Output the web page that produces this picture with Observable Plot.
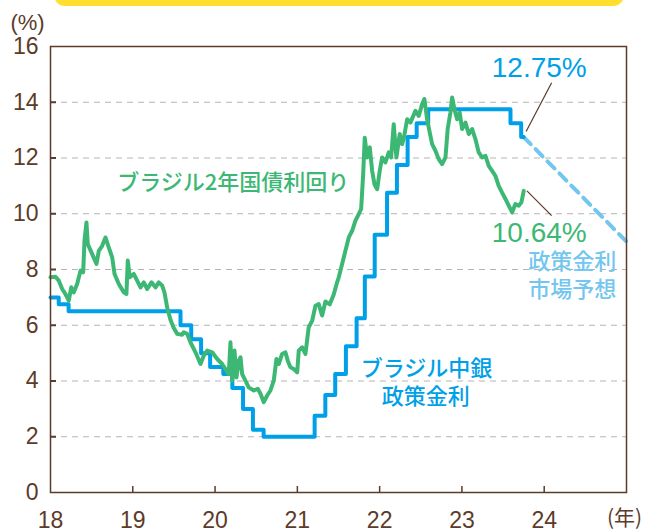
<!DOCTYPE html>
<html>
<head>
<meta charset="utf-8">
<script src="https://cdn.jsdelivr.net/npm/d3@7"></script>
<script src="https://cdn.jsdelivr.net/npm/@observablehq/plot@0.6"></script>
<style>
  html, body { margin: 0; padding: 0; background: #fff; }
  #wrap { position: relative; width: 646px; height: 531px; overflow: hidden; }
  #banner { position: absolute; left: 54px; top: -16px; width: 570px; height: 22px; background: #ffdf2c; border-radius: 12px; }
  #chart { position: absolute; left: 0; top: 0; }
</style>
</head>
<body>
<div id="wrap"><div id="chart"></div><div id="banner"></div></div>
<script>
// ---- data ----
const yTicks = [0, 2, 4, 6, 8, 10, 12, 14, 16];
const gridTicks = [2, 4, 6, 8, 10, 12, 14];
const xTicks = [2018, 2019, 2020, 2021, 2022, 2023, 2024];
const xInnerTicks = [2019, 2020, 2021, 2022, 2023, 2024];

// Brazil central bank policy rate (step)
const policyDates = [2018.0, 2018.10, 2018.22, 2019.58, 2019.71, 2019.83, 2019.94, 2020.10, 2020.21, 2020.34, 2020.46, 2020.59, 2021.21, 2021.34, 2021.46, 2021.59, 2021.72, 2021.82, 2021.94, 2022.09, 2022.21, 2022.34, 2022.45, 2022.59, 2023.59, 2023.72, 2023.75];
const policyRates = [7.0, 6.75, 6.5, 6.0, 5.5, 5.0, 4.5, 4.25, 3.75, 3.0, 2.25, 2.0, 2.75, 3.5, 4.25, 5.25, 6.25, 7.75, 9.25, 10.75, 11.75, 12.75, 13.25, 13.75, 13.25, 12.75, 12.75];

// Market forecast of policy rate (dashed)
const forecastDates = [2023.75, 2024.0, 2024.5, 2025.0];
const forecastRates = [12.75, 12.0, 10.5, 9.0];

// Brazil 2-year government bond yield
const bondDates = [2018.000, 2018.061, 2018.101, 2018.142, 2018.182, 2018.222, 2018.252, 2018.283, 2018.324, 2018.365, 2018.397, 2018.413, 2018.437, 2018.453, 2018.507, 2018.559, 2018.587, 2018.628, 2018.668, 2018.708, 2018.750, 2018.778, 2018.830, 2018.891, 2018.923, 2018.939, 2018.964, 2019.012, 2019.053, 2019.094, 2019.134, 2019.175, 2019.227, 2019.276, 2019.316, 2019.357, 2019.385, 2019.418, 2019.458, 2019.498, 2019.540, 2019.600, 2019.620, 2019.661, 2019.701, 2019.762, 2019.823, 2019.863, 2019.904, 2019.965, 2020.026, 2020.086, 2020.126, 2020.166, 2020.187, 2020.208, 2020.236, 2020.260, 2020.288, 2020.309, 2020.329, 2020.369, 2020.409, 2020.470, 2020.519, 2020.552, 2020.592, 2020.633, 2020.673, 2020.713, 2020.746, 2020.774, 2020.815, 2020.855, 2020.883, 2020.916, 2020.956, 2020.998, 2021.017, 2021.058, 2021.098, 2021.138, 2021.180, 2021.220, 2021.260, 2021.301, 2021.341, 2021.394, 2021.442, 2021.484, 2021.503, 2021.544, 2021.584, 2021.625, 2021.666, 2021.706, 2021.746, 2021.775, 2021.800, 2021.819, 2021.848, 2021.880, 2021.909, 2021.937, 2021.970, 2022.001, 2022.030, 2022.070, 2022.111, 2022.140, 2022.171, 2022.204, 2022.244, 2022.273, 2022.293, 2022.334, 2022.374, 2022.435, 2022.475, 2022.516, 2022.544, 2022.577, 2022.609, 2022.638, 2022.678, 2022.718, 2022.759, 2022.800, 2022.827, 2022.860, 2022.881, 2022.909, 2022.942, 2022.973, 2023.002, 2023.043, 2023.083, 2023.124, 2023.164, 2023.204, 2023.245, 2023.286, 2023.326, 2023.367, 2023.407, 2023.447, 2023.488, 2023.529, 2023.569, 2023.610, 2023.650, 2023.690, 2023.723, 2023.751];
const bondYields = [7.72, 7.74, 7.60, 7.30, 7.12, 6.88, 7.36, 7.18, 7.48, 7.96, 7.90, 9.03, 9.69, 8.91, 8.55, 8.20, 8.67, 8.85, 9.15, 8.79, 8.43, 7.84, 7.48, 7.18, 7.12, 8.32, 7.72, 7.84, 7.60, 7.36, 7.54, 7.30, 7.54, 7.36, 7.54, 7.42, 7.18, 6.64, 6.20, 5.90, 5.69, 5.66, 5.75, 5.69, 5.39, 5.03, 4.61, 4.91, 5.09, 5.03, 4.79, 4.61, 4.43, 4.25, 5.39, 4.01, 5.09, 4.13, 4.73, 4.85, 4.25, 4.01, 3.77, 3.66, 3.72, 3.54, 3.24, 3.48, 3.66, 4.01, 4.79, 4.61, 4.97, 5.03, 4.73, 4.49, 4.43, 4.31, 5.09, 5.21, 4.97, 5.93, 6.16, 6.70, 6.76, 6.35, 6.85, 6.75, 7.10, 7.55, 7.72, 8.20, 8.67, 9.15, 9.39, 9.75, 9.99, 10.17, 11.42, 12.73, 12.02, 12.38, 11.54, 11.06, 10.88, 11.54, 12.02, 11.84, 12.20, 12.02, 13.21, 12.02, 12.86, 12.50, 12.70, 13.39, 13.27, 13.69, 13.51, 13.93, 14.11, 13.39, 12.91, 12.50, 12.26, 11.96, 11.78, 12.02, 13.04, 13.63, 14.17, 13.75, 13.39, 13.63, 13.04, 13.27, 12.86, 13.04, 12.68, 12.20, 12.02, 12.08, 11.72, 11.54, 11.36, 11.00, 10.76, 10.53, 10.29, 10.05, 10.35, 10.29, 10.41, 10.82];

// ---- build ----
const policy = policyDates.map((d, i) => ({date: d, rate: policyRates[i]}));
const forecast = forecastDates.map((d, i) => ({date: d, rate: forecastRates[i]}));
const bond = bondDates.map((d, i) => ({date: d, rate: bondYields[i]}));

const brown = "#5c3b28";
const blue = "#00a0e9";
const lightBlue = "#72c6ef";
const green = "#3db874";
const jp = "'Noto Sans CJK JP', 'Noto Sans', sans-serif";
const num = "'Liberation Sans', Arial, sans-serif";

const chart = Plot.plot({
  width: 646,
  height: 531,
  marginLeft: 50,
  marginRight: 20,
  marginTop: 46,
  marginBottom: 39,
  x: {domain: [2018, 2025]},
  y: {domain: [0, 16]},
  style: {fontFamily: num, background: "transparent", overflow: "visible"},
  marks: [
    Plot.gridY(gridTicks, {stroke: "#b5b5b5", strokeOpacity: 1, strokeWidth: 1.2, strokeDasharray: "6,5"}),
    Plot.line(forecast, {x: "date", y: "rate", stroke: lightBlue, strokeWidth: 4, strokeDasharray: "10,7"}),
    Plot.line(policy, {x: "date", y: "rate", curve: "step-after", stroke: blue, strokeWidth: 4}),
    Plot.line(bond, {x: "date", y: "rate", stroke: green, strokeWidth: 4, strokeLinejoin: "round"}),
    Plot.frame({stroke: brown, strokeWidth: 1.5}),
    Plot.axisY({ticks: yTicks, tickSize: 0, tickPadding: 12, fontSize: 23, fill: brown, label: null}),
    Plot.axisY({ticks: gridTicks, tickSize: -6, text: null, stroke: brown, strokeWidth: 2, label: null}),
    Plot.axisX({ticks: xTicks, tickSize: 0, tickPadding: 19, fontSize: 23, fill: brown, tickFormat: d => String(d % 100), label: null}),
    Plot.axisX({ticks: xInnerTicks, tickSize: -6, text: null, stroke: brown, strokeWidth: 1.5, label: null}),
    Plot.text(["(%)"], {frameAnchor: "top-left", dx: -23, dy: -24, textAnchor: "middle", lineAnchor: "middle", fontSize: 22, fill: brown}),
    Plot.text(["(年)"], {frameAnchor: "bottom-right", dx: -2, dy: 26, textAnchor: "middle", lineAnchor: "middle", fontSize: 21, fill: brown, fontFamily: jp}),
    Plot.text(["ブラジル2年国債利回り"], {x: 2020.22, y: 11.12, fontSize: 22, fill: green, fontFamily: jp, fontWeight: 500}),
    Plot.text(["10.64%"], {x: 2023.94, y: 9.32, fontSize: 28, fill: green}),
    Plot.text(["12.75%"], {x: 2023.94, y: 15.24, fontSize: 28, fill: blue}),
    Plot.text(["ブラジル中銀"], {x: 2022.57, y: 4.44, fontSize: 22, fill: blue, fontFamily: jp, fontWeight: 500}),
    Plot.text(["政策金利"], {x: 2022.56, y: 3.44, fontSize: 22, fill: blue, fontFamily: jp, fontWeight: 500}),
    Plot.text(["政策金利"], {x: 2024.34, y: 8.28, fontSize: 22, fill: lightBlue, fontFamily: jp, fontWeight: 500}),
    Plot.text(["市場予想"], {x: 2024.34, y: 7.28, fontSize: 22, fill: lightBlue, fontFamily: jp, fontWeight: 500}),
    Plot.link([{x1: 2024.09, y1: 14.7, x2: 2023.78, y2: 12.95}, {x1: 2023.79, y1: 10.82, x2: 2024.09, y2: 9.93}],
      {x1: "x1", y1: "y1", x2: "x2", y2: "y2", stroke: brown, strokeWidth: 1.2})
  ]
});
document.getElementById("chart").appendChild(chart);
</script>
</body>
</html>
